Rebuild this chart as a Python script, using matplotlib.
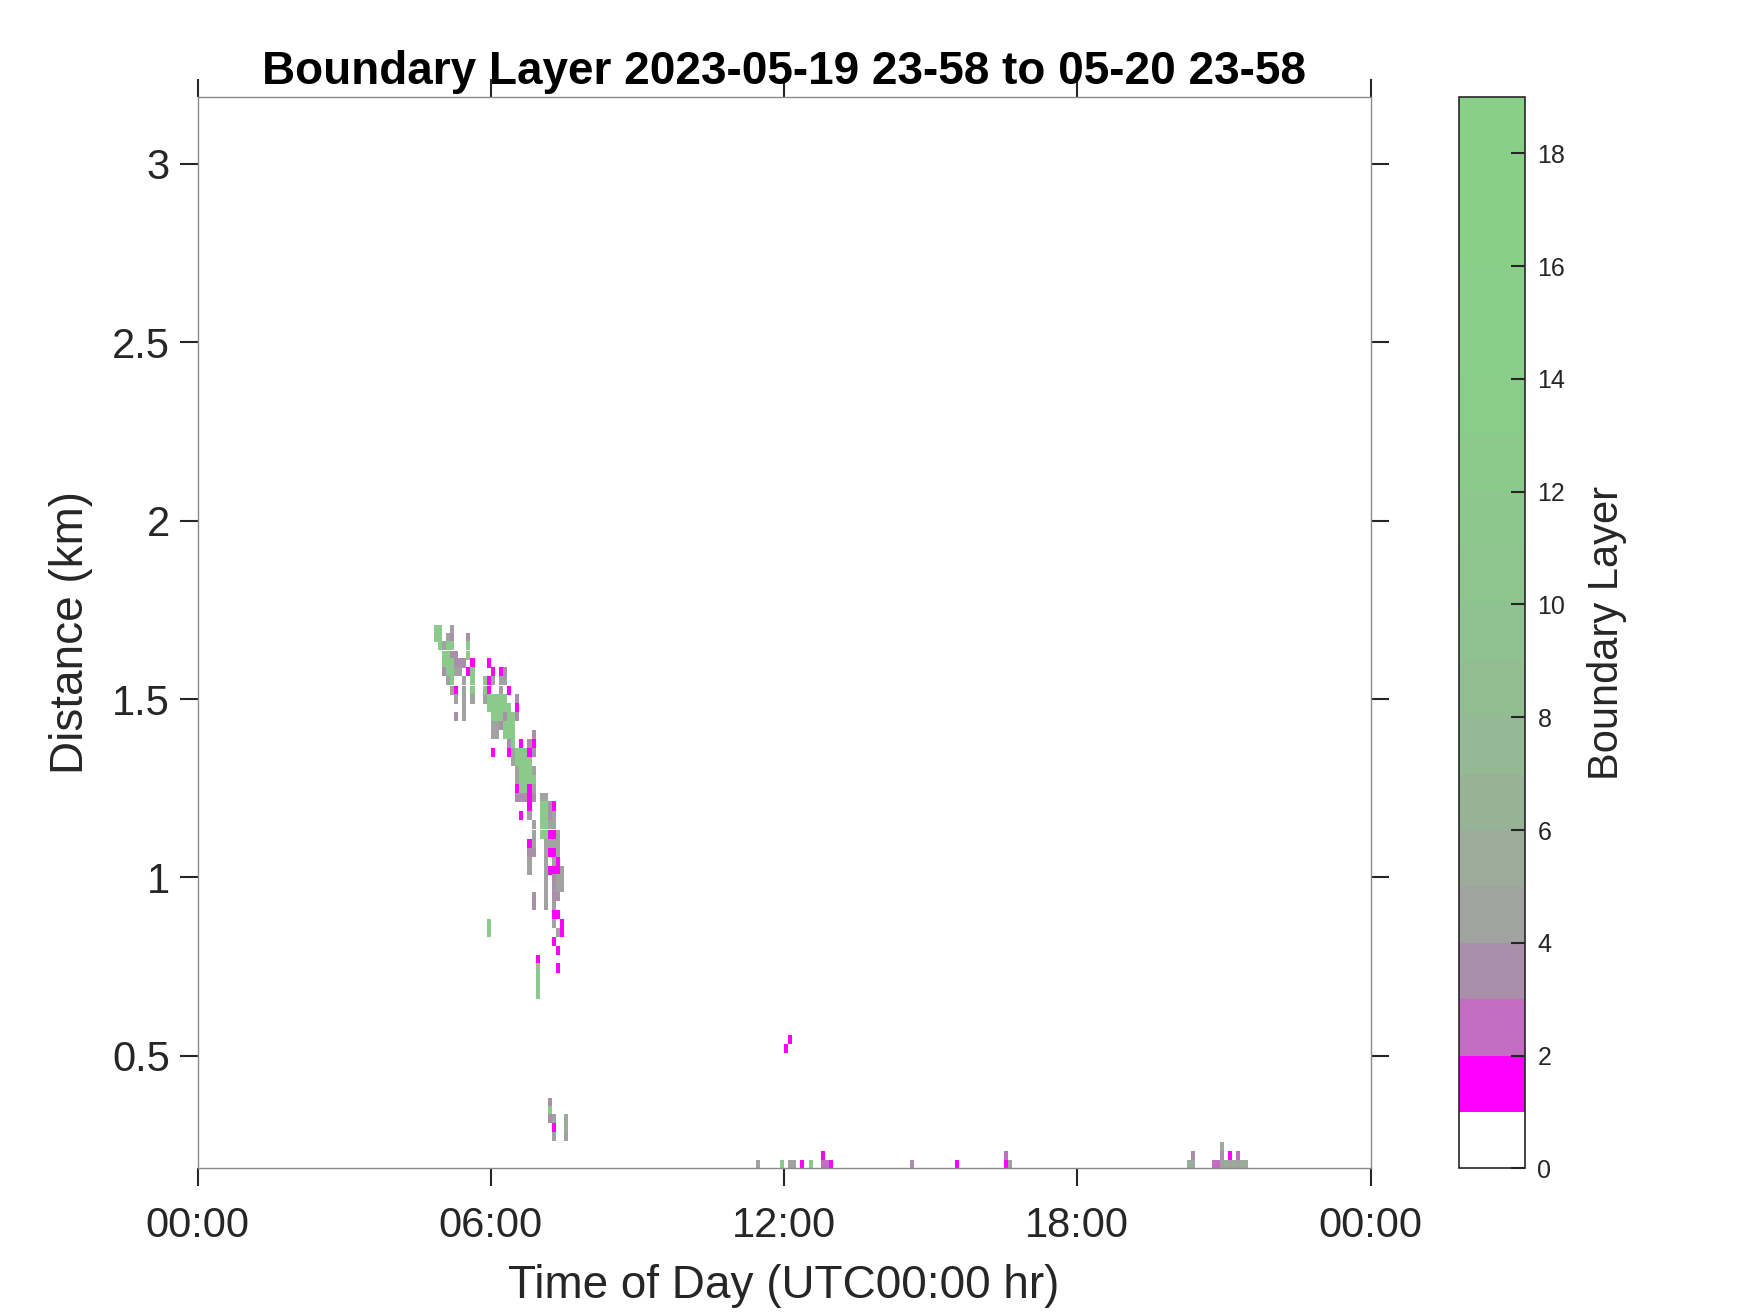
import numpy as np
import matplotlib.pyplot as plt
from matplotlib.colors import ListedColormap, BoundaryNorm
import matplotlib.cm as cm

plt.rcParams['font.family'] = ['Liberation Sans', 'DejaVu Sans']

# colour classes seen in the cells
LEVEL = {'M': 1, 'O': 2, 'P': 3, 'Y': 4, 'S': 5, 'G': 12}

# colorbar classes 0..19
level_colors = ['#FFFFFF', '#FF00FF', '#C26CC2', '#A98FA9', '#A0A3A0',
                '#9BAC9B', '#97B397', '#94B994', '#92BD92', '#90C190',
                '#8EC48E', '#8DC78D', '#8CCA8C', '#8ACC8A', '#89CE89',
                '#89CF89', '#88D088', '#88D088', '#88D088']

# range gate centres (km) and the cells (start minute of day, class) in each
row_km = [1.696, 1.673, 1.649, 1.623, 1.601, 1.576, 1.551, 1.525, 1.500, 1.475,
          1.450, 1.425, 1.400, 1.375, 1.350, 1.326, 1.300, 1.275, 1.250, 1.225,
          1.200, 1.173, 1.147, 1.120, 1.095, 1.070, 1.045, 1.020, 0.996, 0.971,
          0.946, 0.922, 0.896, 0.870, 0.846, 0.821, 0.796, 0.771, 0.746, 0.721,
          0.697, 0.673]
row_cells = [
    [(290, 'G'), (295, 'G'), (310, 'Y')],
    [(290, 'G'), (295, 'G'), (305, 'Y'), (310, 'P'), (330, 'P')],
    [(295, 'G'), (300, 'Y'), (305, 'G'), (310, 'G'), (330, 'G')],
    [(300, 'G'), (305, 'G'), (310, 'P'), (315, 'P'), (330, 'G')],
    [(300, 'G'), (305, 'G'), (310, 'G'), (315, 'P'), (320, 'P'), (325, 'P'), (335, 'M'), (355, 'M')],
    [(300, 'P'), (305, 'G'), (310, 'G'), (315, 'Y'), (320, 'Y'), (330, 'M'), (335, 'G'), (360, 'M'), (370, 'M'), (375, 'P')],
    [(305, 'Y'), (310, 'G'), (325, 'Y'), (335, 'G'), (350, 'G'), (355, 'M'), (360, 'Y'), (370, 'Y'), (375, 'Y')],
    [(310, 'Y'), (315, 'M'), (325, 'Y'), (335, 'G'), (350, 'G'), (355, 'M'), (370, 'Y'), (380, 'M')],
    [(315, 'Y'), (325, 'Y'), (335, 'Y'), (350, 'Y'), (355, 'G'), (360, 'G'), (365, 'G'), (370, 'G'), (375, 'G'), (390, 'P')],
    [(325, 'Y'), (355, 'G'), (360, 'G'), (365, 'G'), (370, 'G'), (375, 'G'), (380, 'G'), (390, 'M')],
    [(315, 'P'), (325, 'Y'), (360, 'G'), (365, 'G'), (370, 'G'), (375, 'P'), (380, 'G'), (385, 'G'), (390, 'P')],
    [(360, 'Y'), (365, 'Y'), (370, 'P'), (375, 'G'), (380, 'G'), (385, 'G')],
    [(360, 'Y'), (365, 'Y'), (375, 'G'), (380, 'G'), (385, 'G'), (410, 'P')],
    [(380, 'P'), (385, 'G'), (395, 'M'), (405, 'P'), (410, 'M')],
    [(360, 'M'), (380, 'M'), (385, 'Y'), (390, 'G'), (395, 'G'), (400, 'G'), (405, 'M'), (410, 'P')],
    [(385, 'Y'), (390, 'G'), (395, 'G'), (400, 'G'), (405, 'G')],
    [(390, 'Y'), (395, 'G'), (400, 'G'), (405, 'G'), (410, 'Y')],
    [(390, 'Y'), (395, 'G'), (400, 'G'), (405, 'G'), (410, 'G')],
    [(390, 'M'), (395, 'G'), (400, 'G'), (405, 'M'), (410, 'Y')],
    [(390, 'P'), (395, 'P'), (400, 'P'), (405, 'M'), (410, 'P'), (420, 'Y'), (425, 'Y')],
    [(405, 'M'), (420, 'G'), (425, 'G'), (430, 'P'), (435, 'M')],
    [(395, 'M'), (405, 'Y'), (420, 'G'), (425, 'G'), (430, 'P'), (435, 'Y')],
    [(410, 'Y'), (420, 'G'), (425, 'G'), (430, 'Y'), (435, 'Y')],
    [(410, 'Y'), (420, 'G'), (425, 'G'), (430, 'M'), (435, 'M'), (440, 'Y')],
    [(405, 'M'), (410, 'Y'), (425, 'Y'), (430, 'Y'), (435, 'Y'), (440, 'Y')],
    [(405, 'P'), (410, 'P'), (425, 'Y'), (430, 'M'), (435, 'M'), (440, 'Y')],
    [(405, 'Y'), (425, 'Y'), (435, 'Y'), (440, 'M')],
    [(405, 'Y'), (425, 'Y'), (430, 'M'), (435, 'M'), (440, 'M'), (445, 'Y')],
    [(425, 'Y'), (435, 'P'), (440, 'Y'), (445, 'Y')],
    [(425, 'Y'), (435, 'P'), (440, 'Y'), (445, 'Y')],
    [(410, 'P'), (425, 'Y'), (435, 'P'), (440, 'P')],
    [(410, 'P'), (425, 'Y'), (435, 'Y')],
    [(435, 'M'), (440, 'M')],
    [(355, 'G'), (435, 'Y'), (445, 'M')],
    [(355, 'G'), (440, 'Y'), (445, 'M')],
    [(435, 'M')],
    [(440, 'M')],
    [(415, 'M')],
    [(415, 'G'), (440, 'M')],
    [(415, 'G')],
    [(415, 'G')],
    [(415, 'G')],
]

# low level returns
low_km = [0.546, 0.521, 0.370, 0.346, 0.323, 0.300, 0.273, 0.244, 0.220, 0.196]
low_cells = [
    [(725, 'M')],
    [(720, 'M')],
    [(430, 'P')],
    [(430, 'G')],
    [(430, 'P'), (435, 'Y'), (450, 'S')],
    [(435, 'M'), (450, 'S')],
    [(435, 'Y'), (450, 'Y')],
    [(1255, 'S')],
    [(765, 'M'), (990, 'O'), (1220, 'P'), (1255, 'P'), (1265, 'M'), (1275, 'O')],
    [(685, 'Y'), (715, 'G'), (725, 'Y'), (730, 'Y'), (740, 'M'), (750, 'G'), (765, 'O'),
     (770, 'O'), (775, 'M'), (875, 'P'), (930, 'M'), (990, 'M'), (995, 'Y'), (1215, 'S'),
     (1220, 'S'), (1245, 'O'), (1250, 'O'), (1255, 'Y'), (1260, 'S'), (1265, 'Y'),
     (1270, 'S'), (1275, 'Y'), (1280, 'S'), (1285, 'S')],
]

x_ticks = [0, 6, 12, 18, 24]
x_ticklabels = ['00:00', '06:00', '12:00', '18:00', '00:00']
y_ticks = [0.5, 1, 1.5, 2, 2.5, 3]
y_ticklabels = ['0.5', '1', '1.5', '2', '2.5', '3']

DZ = 0.0255      # gate depth km
DT = 5 / 60.0    # 5 min profiles

t, z, lv = [], [], []
for km, cells in zip(row_km + low_km, row_cells + low_cells):
    for m, code in cells:
        t.append(m / 60.0)
        z.append(km)
        lv.append(LEVEL[code])
t = np.array(t)
z = np.array(z)
lv = np.array(lv)

cmap = ListedColormap(level_colors)
norm = BoundaryNorm(np.arange(0, 20), cmap.N)

fig = plt.figure(figsize=(17.5, 13.13), dpi=100)
ax = fig.add_axes([0.1129, 0.1101, 0.6703, 0.8161])
cax = fig.add_axes([0.8337, 0.1101, 0.0377, 0.8161])

ax.bar(t, DZ, width=DT, bottom=z - DZ / 2, align='edge',
       color=cmap(norm(lv)), linewidth=0, antialiased=False)

ax.set_xlim(0, 24)
ax.set_ylim(0.184, 3.188)
ax.set_xticks(x_ticks)
ax.set_xticklabels(x_ticklabels)
ax.set_yticks(y_ticks)
ax.set_yticklabels(y_ticklabels)
ax.tick_params(direction='out', length=13, width=1.5, color='#262626',
               labelcolor='#262626', labelsize=30, top=True, right=True)
ax.tick_params(axis='x', pad=14)
ax.tick_params(axis='y', pad=7)
for s in ax.spines.values():
    s.set_color('#8a8a8a')
    s.set_linewidth(1.0)

ax.set_title('Boundary Layer 2023-05-19 23-58 to 05-20 23-58',
             fontsize=33, fontweight='bold', pad=9)
ax.set_xlabel('Time of Day (UTC00:00 hr)', fontsize=33, color='#262626')
ax.set_ylabel('Distance (km)', fontsize=33, color='#262626')
ax.xaxis.set_label_coords(0.5, -0.1096)
ax.xaxis.label.set_va('center')
ax.yaxis.set_label_coords(-0.108, 0.5)
ax.yaxis.label.set_va('center')

cb = fig.colorbar(cm.ScalarMappable(norm=norm, cmap=cmap), cax=cax,
                  ticks=np.arange(0, 19, 2))
cb.minorticks_off()
cb.outline.set_linewidth(1.2)
cb.outline.set_edgecolor('#262626')
cax.tick_params(direction='in', length=10, width=1.5, color='#262626',
                labelcolor='#262626', labelsize=18, pad=9)
cb.set_label('Boundary Layer', fontsize=30, color='#262626')
cax.yaxis.set_label_coords(2.24, 0.5)
cax.yaxis.label.set_va('center')

fig.savefig('out.png', dpi=100)
